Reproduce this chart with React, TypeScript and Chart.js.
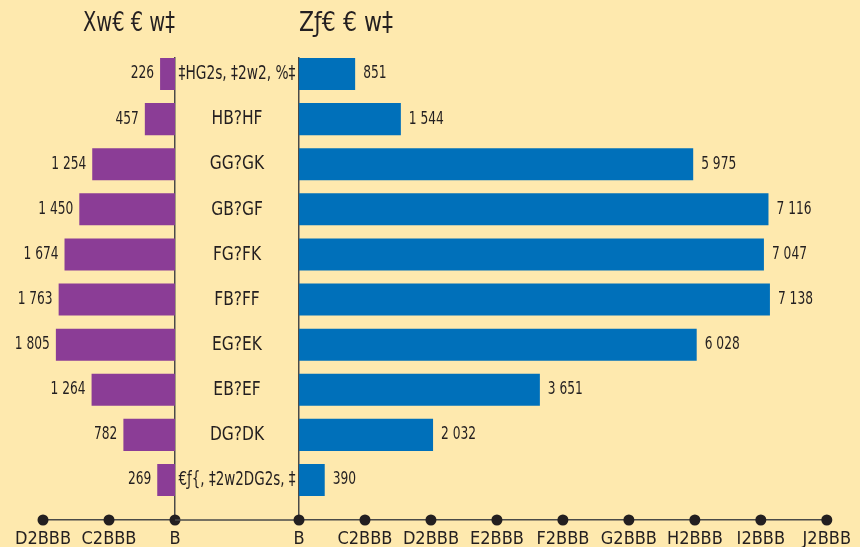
import React, { useEffect, useRef } from 'react';
import { Chart, registerables } from 'chart.js';

Chart.register(...registerables);

const ageGroups = [
  '‡HG2s, ‡2w2, %‡',
  'HB?HF',
  'GG?GK',
  'GB?GF',
  'FG?FK',
  'FB?FF',
  'EG?EK',
  'EB?EF',
  'DG?DK',
  '€ƒ{, ‡2w2DG2s, ‡',
];
const women = [226, 457, 1254, 1450, 1674, 1763, 1805, 1264, 782, 269];
const men = [851, 1544, 5975, 7116, 7047, 7138, 6028, 3651, 2032, 390];
const womenTickLabels = ['B', 'C2BBB', 'D2BBB'];
const menTickLabels = ['B', 'C2BBB', 'D2BBB', 'E2BBB', 'F2BBB', 'G2BBB', 'H2BBB', 'I2BBB', 'J2BBB'];
const womenTitle = 'Xw€ € w‡';
const menTitle = 'Zƒ€ € w‡';

const FONT = "'Liberation Sans Narrow', 'DejaVu Sans Condensed', 'Liberation Sans', sans-serif";
const TEXT = '#231F20';
const LINE = '#4A4A48';
const BG = '#FEE9AE';
const PURPLE = '#8B3D96';
const BLUE = '#0070BA';

const fmt = (v: number) =>
  v >= 1000 ? `${Math.floor(v / 1000)} ${String(v % 1000).padStart(3, '0')}` : String(v);

// draw text horizontally condensed (the reference uses a condensed face)
function condensedText(ctx: CanvasRenderingContext2D, s: string, x: number, y: number, ratio: number, cap?: number) {
  const w = ctx.measureText(s).width;
  let mw = w * ratio;
  if (cap !== undefined) mw = Math.min(mw, cap);
  ctx.fillText(s, x, y, mw);
}

function makeExtras(side: 'left' | 'right') {
  return {
    id: 'extras_' + side,
    afterDatasetsDraw(chart: any) {
      const ctx = chart.ctx;
      const meta = chart.getDatasetMeta(0);
      const values = side === 'left' ? women : men;
      ctx.save();
      ctx.font = `17px ${FONT}`;
      ctx.fillStyle = TEXT;
      ctx.textBaseline = 'middle';
      meta.data.forEach((el: any, i: number) => {
        if (side === 'left') {
          ctx.textAlign = 'right';
          condensedText(ctx, fmt(values[i]), el.x - 6, el.y, 0.8);
        } else {
          ctx.textAlign = 'left';
          condensedText(ctx, fmt(values[i]), el.x + 8, el.y, 0.8);
        }
      });
      ctx.restore();
    },
    afterDraw(chart: any) {
      const ctx = chart.ctx;
      const xs = chart.scales.x;
      const ys = chart.scales.y;
      const area = chart.chartArea;
      const y = area.bottom;
      ctx.save();
      // titles
      ctx.fillStyle = TEXT;
      ctx.font = `26px ${FONT}`;
      ctx.textBaseline = 'middle';
      if (side === 'left') {
        ctx.textAlign = 'right';
        condensedText(ctx, womenTitle, area.right, 24, 1, 92);
      } else {
        ctx.textAlign = 'left';
        condensedText(ctx, menTitle, area.left, 24, 1, 94);
      }
      // age-group labels in the central band
      if (side === 'right') {
        ctx.font = `20px ${FONT}`;
        ctx.textAlign = 'center';
        const cx = (ys.left + ys.right) / 2;
        ageGroups.forEach((lab, i) => {
          condensedText(ctx, lab, cx, ys.getPixelForValue(i), 0.86, 117);
        });
        // axis line across the central band
        ctx.strokeStyle = LINE;
        ctx.lineWidth = 1.5;
        ctx.beginPath();
        ctx.moveTo(0, y);
        ctx.lineTo(area.left, y);
        ctx.stroke();
      }
      ctx.fillStyle = TEXT;
      xs.ticks.forEach((t: any) => {
        const px = xs.getPixelForValue(t.value);
        ctx.beginPath();
        ctx.arc(px, y, 5.5, 0, Math.PI * 2);
        ctx.fill();
      });
      ctx.restore();
    },
  };
}

function buildConfig(side: 'left' | 'right'): any {
  const isLeft = side === 'left';
  const values = isLeft ? women : men;
  const tickLabels = isLeft ? womenTickLabels : menTickLabels;
  return {
    type: 'bar',
    data: {
      datasets: [
        {
          data: values.map((v, i) => ({ x: v, y: i })),
          backgroundColor: isLeft ? PURPLE : BLUE,
          borderWidth: 0,
          barPercentage: 0.71,
          categoryPercentage: 1,
        },
      ],
    },
    plugins: [makeExtras(side)],
    options: {
      indexAxis: 'y',
      animation: false,
      responsive: false,
      maintainAspectRatio: false,
      layout: {
        padding: isLeft
          ? { left: 43, right: 15, top: 57.5, bottom: 0 }
          : { left: 0, right: 30, top: 57.5, bottom: 0 },
      },
      plugins: {
        legend: { display: false },
        tooltip: { enabled: false },
        title: { display: false },
      },
      scales: {
        x: {
          type: 'linear',
          position: 'bottom',
          reverse: isLeft,
          min: 0,
          max: isLeft ? 2000 : 8000,
          afterBuildTicks: (scale: any) => {
            scale.ticks = tickLabels.map((_, i) => ({ value: i * 1000 }));
          },
          afterFit: (scale: any) => {
            scale.height = 27;
          },
          grid: { display: false, drawTicks: false },
          border: { display: true, color: LINE, width: 1.5 },
          ticks: {
            padding: 9,
            color: TEXT,
            autoSkip: false,
            maxRotation: 0,
            font: { family: FONT, size: 18 },
            callback: (v: number) => tickLabels[Math.round(v / 1000)],
          },
        },
        y: {
          type: 'linear',
          position: isLeft ? 'right' : 'left',
          reverse: true,
          offset: false,
          min: -0.366,
          max: 9.887,
          afterBuildTicks: (scale: any) => {
            scale.ticks = ageGroups.map((_, i) => ({ value: i }));
          },
          afterFit: (scale: any) => {
            scale.width = isLeft ? 0 : 124;
          },
          grid: { display: false, drawTicks: false },
          border: { display: true, color: LINE, width: 1.5 },
          ticks: { display: false },
        },
      },
    },
  };
}

export default function App() {
  const leftRef = useRef<HTMLCanvasElement>(null);
  const rightRef = useRef<HTMLCanvasElement>(null);

  useEffect(() => {
    const l = new Chart(leftRef.current as HTMLCanvasElement, buildConfig('left'));
    const r = new Chart(rightRef.current as HTMLCanvasElement, buildConfig('right'));
    return () => {
      l.destroy();
      r.destroy();
    };
  }, []);

  return (
    <div
      style={{
        position: 'fixed',
        left: 0,
        top: 0,
        width: 860,
        height: 547,
        background: BG,
        overflow: 'hidden',
      }}
    >
      <canvas
        ref={leftRef}
        width={190}
        height={547}
        style={{ position: 'absolute', left: 0, top: 0, width: 190, height: 547 }}
      />
      <canvas
        ref={rightRef}
        width={685}
        height={547}
        style={{ position: 'absolute', left: 175, top: 0, width: 685, height: 547 }}
      />
    </div>
  );
}
